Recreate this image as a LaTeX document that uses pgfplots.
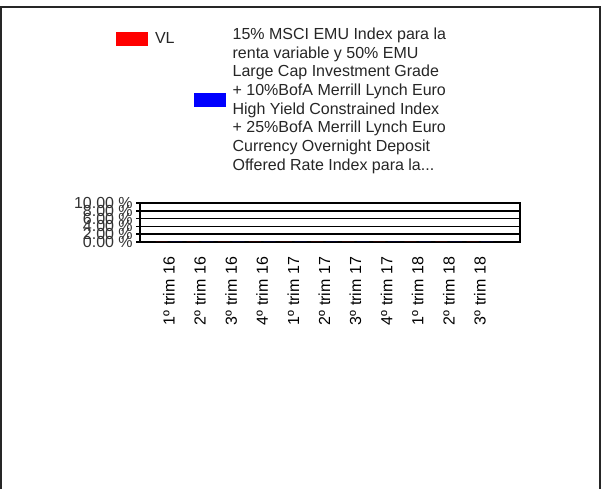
\documentclass[border=0pt]{standalone}
\usepackage{pgfplots}
\pgfplotsset{compat=1.18}
\usepackage{fontspec}
\setmainfont{Liberation Sans}

\begin{document}
\begin{tikzpicture}
% page: 602 x 489 px at 0.75pt per px
\useasboundingbox (0,0) rectangle (451.5pt,366.75pt);
\fill[white] (0,0) rectangle (451.5pt,366.75pt);
% outer frame, open at the bottom
\draw[black!85, line width=1.5pt] (0.75pt,0) -- (0.75pt,361.5pt) -- (450pt,361.5pt) -- (450pt,0);

\begin{axis}[
    at={(105pt,185.25pt)},
    anchor=south west,
    scale only axis,
    width=285pt,
    height=29.25pt,
    font=\fontsize{12}{14}\selectfont,
    xmin=-0.93, xmax=11.29,
    ymin=0, ymax=10,
    xtick={0,1,2,3,4,5,6,7,8,9,10},
    xticklabels={1º trim 16,2º trim 16,3º trim 16,4º trim 16,1º trim 17,2º trim 17,3º trim 17,4º trim 17,1º trim 18,2º trim 18,3º trim 18},
    xtick style={draw=none},
    xticklabel style={yshift=-8pt, rotate=90, anchor=east, inner sep=0pt},
    ytick={0,2,4,6,8,10},
    yticklabels={0.00 \%,2.00 \%,4.00 \%,6.00 \%,8.00 \%,10.00 \%},
    ytick pos=left,
    tick align=outside,
    major tick length=3pt,
    y tick style={black, line width=1.1pt},
    yticklabel style={inner sep=0pt, text=black!80, xshift=-2.25pt},
    ymajorgrids,
    grid style={black, line width=1.1pt},
    axis line style={black, line width=1.1pt},
    /pgf/number format/assume math mode=true,
    ybar, bar width=9pt,
    legend columns=2,
    legend cell align=left,
    legend style={
        draw=none, fill=none, inner sep=0pt, outer sep=0pt,
        at={(axis description cs:-0.063,5.49)}, anchor=north west,
        column sep=5.25pt,
        /tikz/every even column/.append style={column sep=14.25pt},
        nodes={inner sep=0pt, align=left, font=\fontsize{12}{14}\selectfont, text=black!85},
    },
]
\addplot[fill=red, draw=none,
    legend image code/.code={\fill[red] (0pt,40.5pt) rectangle (24pt,51pt);}]
    coordinates {(0,0) (1,0) (2,0) (3,0) (4,0) (5,0) (6,0) (7,0) (8,0) (9,0) (10,0)};
\addlegendentry[yshift=45.75pt]{VL}
\addplot[fill=blue, draw=none,
    legend image code/.code={\fill[blue] (0pt,-5.25pt) rectangle (24pt,5.25pt);}]
    coordinates {(0,0) (1,0) (2,0) (3,0) (4,0) (5,0) (6,0) (7,0) (8,0) (9,0) (10,0)};
\addlegendentry{15\% MSCI EMU Index para la\\renta variable y 50\% EMU\\Large Cap Investment Grade\\+ 10\%BofA Merrill Lynch Euro\\High Yield Constrained Index\\+ 25\%BofA Merrill Lynch Euro\\Currency Overnight Deposit\\Offered Rate Index para la...}
\end{axis}
\end{tikzpicture}
\end{document}
